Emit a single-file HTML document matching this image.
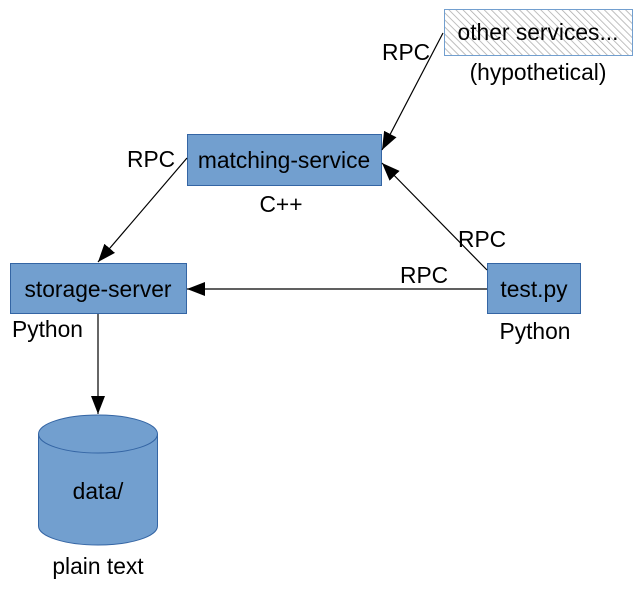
<!DOCTYPE html>
<html><head><style>body{margin:0;background:#fff}</style></head><body>
<svg width="642" height="586" xmlns="http://www.w3.org/2000/svg" font-family="Liberation Sans, sans-serif" font-size="22.8">
<defs>
<pattern id="h" width="5" height="5" patternUnits="userSpaceOnUse" patternTransform="rotate(-45)"><rect width="5" height="5" fill="#fff"/><line x1="0" y1="0" x2="0" y2="5" stroke="#aaa" stroke-width="1.5"/></pattern>
<marker id="a" markerWidth="20" markerHeight="14" refX="18" refY="7" orient="auto" markerUnits="userSpaceOnUse"><path d="M0,0 L18,7 L0,14 z" fill="#000"/></marker>
</defs>
<rect x="444.5" y="9.5" width="188" height="46" fill="url(#h)" stroke="#729fcf"/>
<text x="538" y="40" text-anchor="middle">other services...</text>
<text x="538" y="80" text-anchor="middle">(hypothetical)</text>
<rect x="187.5" y="134.5" width="194" height="51" fill="#729fcf" stroke="#3465a4"/>
<text x="284" y="168" text-anchor="middle">matching-service</text>
<text x="281" y="212" text-anchor="middle">C++</text>
<rect x="10.5" y="263.5" width="176" height="50" fill="#729fcf" stroke="#3465a4"/>
<text x="98" y="297" text-anchor="middle">storage-server</text>
<text x="12" y="337">Python</text>
<rect x="487.5" y="263.5" width="93" height="50" fill="#729fcf" stroke="#3465a4"/>
<text x="534" y="297" text-anchor="middle">test.py</text>
<text x="535" y="339" text-anchor="middle">Python</text>
<path d="M38.5,434 L38.5,526 A59.5,19 0 0 0 157.5,526 L157.5,434 A59.5,19 0 0 0 38.5,434 A59.5,19 0 0 0 157.5,434" fill="#729fcf" stroke="#3465a4"/>
<text x="98" y="499" text-anchor="middle">data/</text>
<text x="98" y="574" text-anchor="middle">plain text</text>
<g stroke="#000" stroke-width="1.2" fill="none" marker-end="url(#a)">
<line x1="443" y1="33" x2="382" y2="150"/>
<line x1="487" y1="270" x2="382" y2="163"/>
<line x1="187" y1="158" x2="98" y2="262"/>
<line x1="487" y1="289" x2="187" y2="289"/>
<line x1="98" y1="314" x2="98" y2="414"/>
</g>
<text x="382" y="60">RPC</text>
<text x="127" y="167">RPC</text>
<text x="458" y="247">RPC</text>
<text x="400" y="283">RPC</text>
</svg>
</body></html>
